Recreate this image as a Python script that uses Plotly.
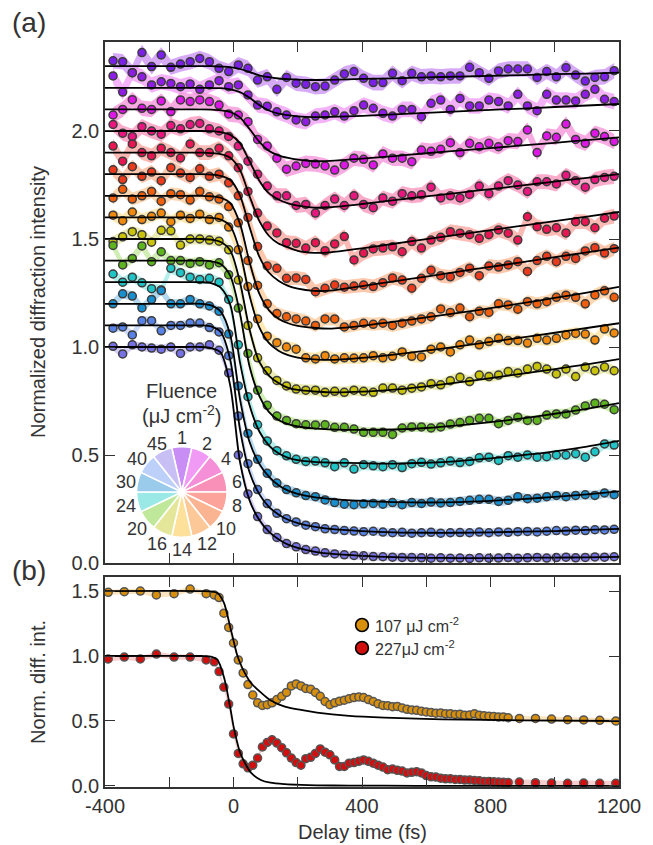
import math
import plotly.graph_objects as go

# ---------------- panel (a): fluence series ----------------
DELAY_A = list(range(-375, 1186, 30))          # delay grid, fs

FLUENCE = [1, 2, 4, 6, 8, 10, 12, 14, 16, 20, 24, 30, 40, 45]
OFFSET = [1.3, 1.2, 1.1, 1.0, 0.9, 0.8, 0.7, 0.6, 0.5, 0.4, 0.3, 0.2, 0.1, 0.0]

MARKER_COLORS = ["#7b20e8", "#8f1de6", "#dd18e6", "#e8167e", "#e81652", "#ec3a1c",
                 "#f0600c", "#f18a0c", "#c9c40a", "#5db41e", "#1fc4c6", "#1890d0",
                 "#5882e6", "#7672e6"]
WHEEL_COLORS = ["#c98ef5", "#f09af5", "#f58fd8", "#f890b8", "#fca39c", "#fbb492",
                "#fcc898", "#fde09a", "#e4e69a", "#c0e89a", "#9be9e6", "#9bcbea",
                "#bcd0fa", "#c8bff5"]
BAND_HALF = [0.036, 0.036, 0.036, 0.035, 0.034, 0.032, 0.03, 0.028, 0.026, 0.024,
             0.024, 0.022, 0.02, 0.02]

I_F1 = [1.025, 1.021, 0.970, 1.063, 0.998, 1.052, 0.995, 1.010, 1.021, 1.036, 1.021, 0.990,
        0.975, 1.006, 0.990, 0.936, 0.951, 0.893, 0.948, 0.921, 0.916, 0.905, 0.908, 0.936,
        0.964, 0.975, 0.944, 0.924, 0.924, 0.967, 0.933, 0.967, 0.951, 0.955, 0.951, 0.955,
        0.955, 0.995, 0.970, 0.944, 0.978, 0.987, 0.987, 0.987, 0.948, 0.975, 0.951, 0.993,
        0.959, 0.931, 0.948, 0.951, 0.979]
I_F2 = [1.055, 0.980, 1.070, 1.051, 1.013, 1.028, 1.020, 1.005, 1.018, 0.993, 1.013, 1.033,
        1.005, 1.013, 0.967, 0.920, 0.915, 0.889, 0.874, 0.851, 0.843, 0.869, 0.874, 0.889,
        0.869, 0.894, 0.920, 0.905, 0.882, 0.869, 0.900, 0.900, 0.866, 0.928, 0.943, 0.900,
        0.951, 0.916, 0.916, 0.943, 0.936, 0.916, 0.970, 0.916, 0.894, 0.970, 0.943, 0.943,
        0.939, 0.970, 0.993, 0.947, 0.936]
I_F4 = [0.974, 1.000, 1.045, 1.005, 1.000, 1.039, 0.990, 1.044, 1.036, 1.044, 1.036, 1.020,
        0.979, 0.974, 0.943, 0.861, 0.831, 0.774, 0.723, 0.738, 0.750, 0.747, 0.738, 0.719,
        0.743, 0.774, 0.769, 0.743, 0.794, 0.774, 0.774, 0.758, 0.812, 0.806, 0.815, 0.846,
        0.800, 0.843, 0.827, 0.843, 0.827, 0.855, 0.851, 0.905, 0.800, 0.877, 0.871, 0.932,
        0.861, 0.843, 0.889, 0.874, 0.851]
I_F6 = [1.030, 0.990, 0.975, 1.020, 1.000, 0.985, 1.025, 1.010, 1.030, 1.035, 1.010, 1.000,
        0.975, 0.930, 0.860, 0.800, 0.745, 0.700, 0.700, 0.655, 0.660, 0.620, 0.655, 0.685,
        0.655, 0.700, 0.660, 0.645, 0.690, 0.675, 0.710, 0.700, 0.705, 0.740, 0.690, 0.700,
        0.690, 0.706, 0.745, 0.710, 0.745, 0.770, 0.750, 0.720, 0.765, 0.765, 0.755, 0.795,
        0.770, 0.740, 0.775, 0.785, 0.790]
I_F8 = [1.030, 0.960, 1.040, 1.000, 0.985, 1.020, 1.000, 0.975, 1.040, 1.000, 1.000, 1.020,
        0.985, 0.930, 0.820, 0.720, 0.660, 0.628, 0.583, 0.580, 0.558, 0.583, 0.546, 0.577,
        0.611, 0.503, 0.535, 0.554, 0.558, 0.564, 0.541, 0.588, 0.558, 0.595, 0.608, 0.634,
        0.627, 0.620, 0.603, 0.620, 0.642, 0.627, 0.595, 0.703, 0.657, 0.645, 0.652, 0.628,
        0.680, 0.680, 0.652, 0.696, 0.706]
I_F10 = [1.020, 0.975, 1.035, 0.990, 1.010, 0.970, 1.030, 1.005, 0.985, 1.025, 0.990, 1.000,
         0.960, 0.900, 0.800, 0.665, 0.575, 0.564, 0.518, 0.520, 0.513, 0.456, 0.472, 0.487,
         0.477, 0.482, 0.487, 0.480, 0.498, 0.520, 0.510, 0.472, 0.518, 0.555, 0.530, 0.525,
         0.545, 0.565, 0.530, 0.575, 0.570, 0.580, 0.595, 0.550, 0.600, 0.620, 0.595, 0.620,
         0.610, 0.645, 0.660, 0.635, 0.655]
I_F12 = [0.990, 1.030, 0.985, 1.000, 1.020, 0.975, 1.010, 1.005, 0.980, 1.020, 0.995, 0.985,
         0.950, 0.875, 0.700, 0.585, 0.500, 0.455, 0.440, 0.430, 0.420, 0.400, 0.430, 0.430,
         0.393, 0.400, 0.410, 0.405, 0.410, 0.400, 0.410, 0.420, 0.430, 0.440, 0.476, 0.460,
         0.480, 0.440, 0.465, 0.460, 0.500, 0.495, 0.475, 0.510, 0.500, 0.510, 0.530, 0.540,
         0.530, 0.500, 0.541, 0.560, 0.530]
I_F14 = [1.010, 0.985, 1.025, 0.990, 1.005, 1.020, 0.980, 1.010, 0.995, 1.015, 0.990, 1.000,
         0.955, 0.850, 0.680, 0.530, 0.450, 0.420, 0.400, 0.390, 0.350, 0.345, 0.360, 0.345,
         0.350, 0.349, 0.350, 0.360, 0.350, 0.357, 0.377, 0.357, 0.354, 0.390, 0.400, 0.377,
         0.410, 0.432, 0.410, 0.425, 0.440, 0.430, 0.430, 0.418, 0.440, 0.432, 0.440, 0.456,
         0.463, 0.460, 0.432, 0.483, 0.465]
I_F16 = [0.988, 1.010, 1.034, 1.020, 0.985, 1.040, 1.038, 0.972, 1.000, 1.000, 0.995, 0.990,
         0.950, 0.810, 0.600, 0.450, 0.390, 0.345, 0.320, 0.305, 0.300, 0.300, 0.290, 0.295,
         0.290, 0.300, 0.295, 0.290, 0.310, 0.310, 0.300, 0.309, 0.315, 0.330, 0.325, 0.344,
         0.360, 0.340, 0.370, 0.363, 0.370, 0.386, 0.380, 0.398, 0.410, 0.398, 0.375, 0.398,
         0.363, 0.407, 0.390, 0.407, 0.390]
I_F20 = [1.070, 0.980, 1.010, 1.068, 0.995, 1.041, 1.000, 1.000, 0.987, 0.995, 0.980, 0.990,
         0.935, 0.780, 0.570, 0.400, 0.330, 0.280, 0.260, 0.245, 0.240, 0.239, 0.240, 0.228,
         0.228, 0.220, 0.205, 0.205, 0.205, 0.195, 0.225, 0.230, 0.230, 0.225, 0.230, 0.243,
         0.250, 0.260, 0.270, 0.270, 0.245, 0.260, 0.275, 0.260, 0.260, 0.285, 0.290, 0.290,
         0.308, 0.327, 0.340, 0.335, 0.310]
I_F24 = [1.038, 1.000, 1.023, 0.997, 0.970, 0.964, 1.064, 1.044, 1.023, 1.013, 1.018, 1.000,
         0.920, 0.710, 0.470, 0.340, 0.265, 0.220, 0.196, 0.180, 0.170, 0.172, 0.164, 0.146,
         0.164, 0.135, 0.155, 0.150, 0.146, 0.155, 0.142, 0.160, 0.166, 0.158, 0.164, 0.172,
         0.165, 0.170, 0.187, 0.190, 0.175, 0.197, 0.190, 0.200, 0.190, 0.192, 0.200, 0.200,
         0.206, 0.190, 0.215, 0.251, 0.246]
I_F30 = [1.000, 1.046, 1.036, 0.981, 1.020, 1.061, 1.000, 1.000, 1.020, 1.000, 0.990, 0.965,
         0.860, 0.620, 0.400, 0.280, 0.215, 0.170, 0.140, 0.125, 0.112, 0.107, 0.092, 0.080,
         0.072, 0.070, 0.074, 0.076, 0.072, 0.080, 0.070, 0.080, 0.076, 0.082, 0.078, 0.080,
         0.085, 0.090, 0.095, 0.095, 0.085, 0.090, 0.107, 0.098, 0.100, 0.107, 0.113, 0.107,
         0.113, 0.116, 0.113, 0.124, 0.116]
I_F40 = [0.987, 0.993, 0.956, 1.022, 1.022, 0.975, 1.000, 1.000, 1.011, 1.011, 0.990, 0.970,
         0.860, 0.580, 0.360, 0.240, 0.175, 0.130, 0.105, 0.090, 0.075, 0.068, 0.058, 0.055,
         0.050, 0.048, 0.045, 0.047, 0.043, 0.040, 0.042, 0.038, 0.040, 0.042, 0.038, 0.040,
         0.041, 0.040, 0.043, 0.040, 0.044, 0.042, 0.045, 0.046, 0.044, 0.047, 0.050, 0.048,
         0.052, 0.050, 0.054, 0.053, 0.056]
I_F45 = [1.003, 0.968, 1.010, 1.000, 0.995, 0.990, 1.000, 0.970, 1.000, 1.000, 1.010, 0.985,
         0.880, 0.500, 0.320, 0.215, 0.155, 0.118, 0.090, 0.075, 0.062, 0.055, 0.047, 0.042,
         0.038, 0.035, 0.033, 0.030, 0.029, 0.027, 0.026, 0.025, 0.024, 0.022, 0.024, 0.022,
         0.023, 0.021, 0.024, 0.022, 0.023, 0.025, 0.022, 0.024, 0.026, 0.023, 0.025, 0.027,
         0.024, 0.026, 0.028, 0.027, 0.029]

# fitted curves, sampled at FIT_T
FIT_T = [-400, -150, -100, -70, -40, -10, 20, 50, 80, 110, 140, 170, 200, 250, 300,
         400, 500, 600, 700, 800, 900, 1000, 1100, 1200]
FIT_F1 = [1, 1, 1, 1.0, 0.998, 0.996, 0.987, 0.973, 0.958, 0.949, 0.943, 0.940, 0.938,
          0.936, 0.937, 0.941, 0.944, 0.948, 0.952, 0.955, 0.959, 0.963, 0.966, 0.970]
FIT_F2 = [1, 1, 1, 0.999, 0.998, 0.993, 0.980, 0.954, 0.920, 0.895, 0.880, 0.873, 0.868,
          0.864, 0.865, 0.870, 0.877, 0.884, 0.891, 0.898, 0.904, 0.911, 0.918, 0.925]
FIT_F4 = [1, 1, 1, 0.999, 0.996, 0.988, 0.963, 0.909, 0.851, 0.809, 0.787, 0.775, 0.767,
          0.760, 0.762, 0.772, 0.784, 0.797, 0.809, 0.821, 0.833, 0.845, 0.858, 0.870]
FIT_F6 = [1, 1, 1, 0.999, 0.995, 0.982, 0.944, 0.860, 0.771, 0.712, 0.683, 0.665, 0.654,
          0.645, 0.647, 0.662, 0.680, 0.697, 0.714, 0.731, 0.748, 0.766, 0.783, 0.800]
FIT_F8 = [1, 1, 1, 0.998, 0.993, 0.976, 0.920, 0.798, 0.685, 0.615, 0.579, 0.561, 0.545,
          0.536, 0.538, 0.557, 0.578, 0.599, 0.620, 0.641, 0.662, 0.683, 0.704, 0.725]
FIT_F10 = [1, 1, 1, 0.998, 0.992, 0.973, 0.902, 0.755, 0.619, 0.545, 0.507, 0.483, 0.470,
           0.460, 0.461, 0.482, 0.504, 0.526, 0.549, 0.571, 0.593, 0.616, 0.638, 0.660]
FIT_F12 = [1, 1, 1, 0.998, 0.991, 0.966, 0.871, 0.693, 0.548, 0.471, 0.431, 0.410, 0.398,
           0.389, 0.385, 0.398, 0.417, 0.437, 0.458, 0.480, 0.503, 0.527, 0.552, 0.578]
FIT_F14 = [1, 1, 1, 0.998, 0.990, 0.960, 0.842, 0.637, 0.492, 0.419, 0.383, 0.362, 0.351,
           0.343, 0.340, 0.350, 0.365, 0.383, 0.403, 0.424, 0.445, 0.466, 0.488, 0.510]
FIT_F16 = [1, 1, 1, 0.997, 0.986, 0.947, 0.801, 0.581, 0.432, 0.368, 0.333, 0.311, 0.301,
           0.294, 0.290, 0.293, 0.303, 0.318, 0.336, 0.356, 0.377, 0.398, 0.420, 0.444]
FIT_F20 = [1, 1, 1, 0.997, 0.984, 0.929, 0.757, 0.510, 0.375, 0.300, 0.262, 0.243, 0.232,
           0.223, 0.219, 0.216, 0.218, 0.225, 0.237, 0.252, 0.270, 0.291, 0.314, 0.340]
FIT_F24 = [1, 1, 1, 0.996, 0.975, 0.895, 0.630, 0.430, 0.310, 0.245, 0.208, 0.187, 0.176,
           0.168, 0.165, 0.162, 0.160, 0.164, 0.172, 0.184, 0.199, 0.217, 0.239, 0.265]
FIT_F30 = [1, 1, 1, 0.993, 0.965, 0.855, 0.560, 0.360, 0.260, 0.200, 0.160, 0.135, 0.120,
           0.105, 0.097, 0.088, 0.082, 0.080, 0.082, 0.088, 0.096, 0.106, 0.118, 0.132]
FIT_F40 = [1, 1, 1, 0.995, 0.970, 0.840, 0.520, 0.320, 0.220, 0.160, 0.125, 0.100, 0.085,
           0.068, 0.058, 0.048, 0.042, 0.040, 0.040, 0.042, 0.045, 0.048, 0.053, 0.058]
FIT_F45 = [1, 1, 1, 0.995, 0.975, 0.820, 0.470, 0.290, 0.200, 0.145, 0.110, 0.085, 0.070,
           0.053, 0.043, 0.033, 0.027, 0.024, 0.023, 0.023, 0.024, 0.025, 0.026, 0.028]

SERIES = [I_F1, I_F2, I_F4, I_F6, I_F8, I_F10, I_F12, I_F14, I_F16, I_F20, I_F24, I_F30,
          I_F40, I_F45]
FITS = [FIT_F1, FIT_F2, FIT_F4, FIT_F6, FIT_F8, FIT_F10, FIT_F12, FIT_F14, FIT_F16,
        FIT_F20, FIT_F24, FIT_F30, FIT_F40, FIT_F45]

# ---------------- panel (b): two high-fluence runs ----------------
DELAY_B = ([-390, -340, -290, -240, -185, -135, -85, -60]
           + list(range(-45, 856, 15))
           + [890, 940, 990, 1040, 1090, 1140, 1190])
B_107 = [1.490, 1.495, 1.500, 1.470, 1.480, 1.515, 1.480, 1.470,
         1.450, 1.330, 1.220, 1.100, 0.970, 0.870, 0.780, 0.700, 0.640, 0.620,
         0.625, 0.640, 0.665, 0.690, 0.720, 0.770, 0.785, 0.770, 0.750, 0.745,
         0.720, 0.690, 0.650, 0.625, 0.640, 0.652, 0.660, 0.672, 0.680, 0.685,
         0.680, 0.665, 0.650, 0.632, 0.620, 0.618, 0.610, 0.612, 0.600, 0.590,
         0.585, 0.582, 0.575, 0.570, 0.566, 0.560, 0.562, 0.555, 0.556, 0.550,
         0.551, 0.545, 0.546, 0.555, 0.545, 0.540, 0.536, 0.535, 0.530, 0.531, 0.525,
         0.520, 0.520, 0.515, 0.510, 0.508, 0.505, 0.500]
B_227 = [0.977, 0.992, 0.977, 1.015, 0.992, 0.992, 0.970, 0.955,
         0.880, 0.760, 0.630, 0.400, 0.250, 0.170, 0.140, 0.160, 0.215, 0.300,
         0.335, 0.355, 0.330, 0.295, 0.255, 0.215, 0.180, 0.160, 0.210, 0.220,
         0.250, 0.285, 0.260, 0.240, 0.200, 0.150, 0.150, 0.175, 0.180, 0.190,
         0.200, 0.190, 0.175, 0.160, 0.145, 0.125, 0.130, 0.120, 0.115, 0.100,
         0.105, 0.110, 0.100, 0.080, 0.070, 0.068, 0.060, 0.055, 0.055, 0.050,
         0.050, 0.045, 0.045, 0.042, 0.040, 0.035, 0.035, 0.032, 0.030, 0.028, 0.027,
         0.030, 0.025, 0.022, 0.020, 0.022, 0.020, 0.020]
FIT_B_T = [-400, -100, -70, -50, -30, -10, 0, 10, 20, 35, 55, 85, 115, 160, 210, 260,
           360, 470, 650, 900, 1200]
FIT_B_107 = [1.5, 1.5, 1.497, 1.485, 1.41, 1.22, 1.12, 1.02, 0.95, 0.87, 0.79, 0.72, 0.66,
             0.61, 0.585, 0.565, 0.54, 0.526, 0.513, 0.505, 0.5]
FIT_B_227 = [1.0, 1.0, 0.995, 0.97, 0.84, 0.6, 0.46, 0.35, 0.26, 0.18, 0.10, 0.046, 0.025,
             0.014, 0.008, 0.005, 0.003, 0.002, 0.001, 0.0, 0.0]
B_LABELS = ["107 μJ cm<sup>-2</sup>", "227μJ cm<sup>-2</sup>"]
B_COLORS = ["#d8900c", "#d20f0f"]
B_BAND = ["#f6d9a4", "#f7b9b9"]

X_TICKS = [-400, 0, 400, 800, 1200]
X_LABELS = ["-400", "0", "400", "800", "1200"]

# ---------------- geometry helpers (pixel -> paper) ----------------
W, H = 653, 845
ML, MR, MT, MB = 105, 26, 42, 58
PW, PH = W - ML - MR, H - MT - MB


def px_x(px):
    return (px - ML) / PW


def px_y(py):
    return (H - MB - py) / PH


def rgba(hex_color, a):
    h = hex_color.lstrip("#")
    return "rgba(%d,%d,%d,%.2f)" % (int(h[0:2], 16), int(h[2:4], 16), int(h[4:6], 16), a)


INK = "#333333"
FONT = "Liberation Sans, Arial, Helvetica, sans-serif"

fig = go.Figure()

# shaded uncertainty bands
for vals, off, half, col in zip(SERIES, OFFSET, BAND_HALF, WHEEL_COLORS):
    up = [v + off + half for v in vals]
    lo = [v + off - half for v in vals]
    fig.add_trace(go.Scatter(x=DELAY_A + DELAY_A[::-1], y=up + lo[::-1], fill="toself",
                             fillcolor=rgba(col, 0.75), line=dict(width=0), mode="lines",
                             hoverinfo="skip", xaxis="x", yaxis="y"))
# measured points
for vals, off, col in zip(SERIES, OFFSET, MARKER_COLORS):
    fig.add_trace(go.Scatter(x=DELAY_A, y=[v + off for v in vals], mode="markers",
                             marker=dict(size=8, color=col, line=dict(color="#3c3c3c", width=1.5)),
                             xaxis="x", yaxis="y"))
# fits
for fit, off in zip(FITS, OFFSET):
    fig.add_trace(go.Scatter(x=FIT_T, y=[v + off for v in fit], mode="lines",
                             line=dict(color="black", width=1.8, shape="spline", smoothing=0.8),
                             xaxis="x", yaxis="y"))

# panel (b)
for vals, bcol in zip([B_107, B_227], B_BAND):
    up = [v + 0.02 for v in vals]
    lo = [v - 0.02 for v in vals]
    fig.add_trace(go.Scatter(x=DELAY_B + DELAY_B[::-1], y=up + lo[::-1], fill="toself",
                             fillcolor=rgba(bcol, 0.7), line=dict(width=0), mode="lines",
                             hoverinfo="skip", xaxis="x2", yaxis="y2"))
for vals, col in zip([B_107, B_227], B_COLORS):
    fig.add_trace(go.Scatter(x=DELAY_B, y=vals, mode="markers",
                             marker=dict(size=8, color=col, line=dict(color="#555555", width=1.5)),
                             xaxis="x2", yaxis="y2"))
for fit in [FIT_B_107, FIT_B_227]:
    fig.add_trace(go.Scatter(x=FIT_B_T, y=fit, mode="lines",
                             line=dict(color="black", width=1.8, shape="spline", smoothing=0.8),
                             xaxis="x2", yaxis="y2"))

# fluence colour wheel
PIE_CX, PIE_CY, PIE_R = 183, 492, 46
fig.add_trace(go.Pie(values=[1] * len(FLUENCE), labels=[str(f) for f in FLUENCE],
                     marker=dict(colors=WHEEL_COLORS, line=dict(color="white", width=1.6)),
                     domain=dict(x=[px_x(PIE_CX - PIE_R), px_x(PIE_CX + PIE_R)],
                                 y=[px_y(PIE_CY + PIE_R), px_y(PIE_CY - PIE_R)]),
                     rotation=-360 / (2 * len(FLUENCE)), direction="clockwise", sort=False,
                     textinfo="none", hoverinfo="skip", showlegend=False))

annotations = []
for k, f in enumerate(FLUENCE):
    ang = math.radians(k * 360 / len(FLUENCE))
    lx = PIE_CX + 58 * math.sin(ang)
    ly = PIE_CY - 56 * math.cos(ang) + 2
    annotations.append(dict(x=px_x(lx), y=px_y(ly), text=str(f),
                            font=dict(size=18, color=INK, family=FONT)))
annotations += [
    dict(x=px_x(PIE_CX), y=px_y(391), text="Fluence", font=dict(size=20, color=INK, family=FONT)),
    dict(x=px_x(PIE_CX), y=px_y(414), text="(μJ cm<sup>-2</sup>)",
         font=dict(size=20, color=INK, family=FONT)),
    dict(x=px_x(28), y=px_y(22), text="(a)", font=dict(size=28, color=INK, family=FONT)),
    dict(x=px_x(28), y=px_y(570), text="(b)", font=dict(size=28, color=INK, family=FONT)),
    dict(x=px_x(37), y=px_y(302), text="Normalized diffraction intensity", textangle=-90),
    dict(x=px_x(37), y=px_y(682), text="Norm. diff. int.", textangle=-90),
    dict(x=px_x(366), y=px_y(832), text="Delay time (fs)"),
]
for py, lab in zip([625, 648], B_LABELS):
    annotations.append(dict(x=px_x(377), y=px_y(py), text=lab, xanchor="left",
                            font=dict(size=16, color=INK, family=FONT)))
for a in annotations:
    a.setdefault("xref", "paper")
    a.setdefault("yref", "paper")
    a.setdefault("showarrow", False)
    a.setdefault("xanchor", "center")
    a.setdefault("yanchor", "middle")
    a.setdefault("font", dict(size=20, color=INK, family=FONT))

# legend symbols for panel (b)
shapes = []
for py, col in zip([625, 648], B_COLORS):
    r = 6.5
    shapes.append(dict(type="circle", xref="paper", yref="paper",
                       x0=px_x(366 - r), x1=px_x(366 + r), y0=px_y(py + r), y1=px_y(py - r),
                       fillcolor=col, line=dict(color="black", width=1.6)))

frame = dict(showline=True, linecolor=INK, linewidth=1.6, mirror="ticks", ticks="inside",
             ticklen=10, tickwidth=1.4, tickcolor=INK, showgrid=False, zeroline=False,
             tickfont=dict(size=20, color=INK, family=FONT))
minor_x = dict(ticks="inside", ticklen=10, tickwidth=1.4, tickcolor=INK, tick0=-400,
               dtick=200, showgrid=False)

fig.update_layout(
    width=W, height=H, margin=dict(l=ML, r=MR, t=MT, b=MB),
    paper_bgcolor="white", plot_bgcolor="white", showlegend=False,
    font=dict(family=FONT, size=20, color=INK),
    xaxis=dict(domain=[0, 1], anchor="y", range=[-400, 1200], tickvals=X_TICKS,
               minor=minor_x, showticklabels=False, **frame),
    yaxis=dict(domain=[px_y(563), 1], anchor="x", range=[0, 2.412],
               tickvals=[0, 0.5, 1, 1.5, 2], ticktext=["0.0", "0.5", "1.0", "1.5", "2.0"],
               **frame),
    xaxis2=dict(domain=[0, 1], anchor="y2", range=[-400, 1200], tickvals=X_TICKS,
                ticktext=X_LABELS, minor=minor_x, **frame),
    yaxis2=dict(domain=[0, px_y(577)], anchor="x2", range=[-0.008, 1.608],
                tickvals=[0, 0.5, 1, 1.5], ticktext=["0.0", "0.5", "1.0", "1.5"], **frame),
    annotations=annotations, shapes=shapes,
)

fig.write_html("out.html")
